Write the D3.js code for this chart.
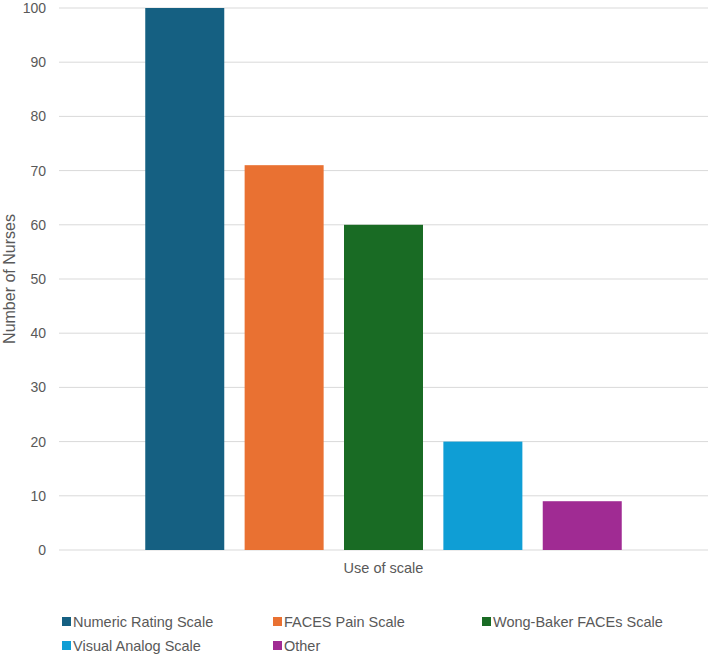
<!DOCTYPE html>
<html>
<head>
<meta charset="utf-8">
<script src="https://cdn.jsdelivr.net/npm/d3@7"></script>
<style>
  html, body { margin: 0; padding: 0; background: #fff; }
  svg { display: block; }
  text { font-family: "Liberation Sans", Arial, sans-serif; }
</style>
</head>
<body>
<svg id="chart" width="709" height="655"></svg>
<script>
const category = "Use of scale";
const seriesNames = ["Numeric Rating Scale", "FACES Pain Scale", "Wong-Baker FACEs Scale", "Visual Analog Scale", "Other"];
const seriesValues = [100, 71, 60, 20, 9];
const seriesColors = ["#156082", "#E97132", "#196B24", "#0F9ED5", "#A02B93"];
const yTicks = [0, 10, 20, 30, 40, 50, 60, 70, 80, 90, 100];
const yTitle = "Number of Nurses";

const svg = d3.select("#chart");
const plot = { left: 59, right: 708, top: 8, bottom: 550 };

const y = d3.scaleLinear().domain([0, 100]).range([plot.bottom, plot.top]);
const xCat = d3.scaleBand().domain([category]).range([plot.left, plot.right]).paddingInner(0).paddingOuter(0);
const xSeries = d3.scaleBand().domain(seriesNames).range([0, xCat.bandwidth()]).paddingInner(0.205).paddingOuter(0.868);

// gridlines
svg.append("g").selectAll("line").data(yTicks).join("line")
  .attr("x1", plot.left).attr("x2", plot.right)
  .attr("y1", d => y(d)).attr("y2", d => y(d))
  .attr("stroke", "#d9d9d9").attr("stroke-width", 1);

// y axis labels
const yAxis = d3.axisLeft(y).tickValues(yTicks).tickSize(0).tickPadding(0);
const gy = svg.append("g").attr("transform", `translate(${plot.left - 13},0)`).call(yAxis);
gy.select(".domain").remove();
gy.selectAll("text").attr("font-size", 14).attr("fill", "#595959")
  .attr("font-family", "Liberation Sans, Arial, sans-serif");

// bars
svg.append("g").selectAll("rect").data(seriesNames).join("rect")
  .attr("x", d => xCat(category) + xSeries(d))
  .attr("width", xSeries.bandwidth())
  .attr("y", (d, i) => y(seriesValues[i]))
  .attr("height", (d, i) => y(0) - y(seriesValues[i]))
  .attr("fill", (d, i) => seriesColors[i]);

// x axis category label
svg.append("text")
  .attr("x", xCat(category) + xCat.bandwidth() / 2)
  .attr("y", 573)
  .attr("text-anchor", "middle")
  .attr("font-size", 14.5).attr("fill", "#595959")
  .text(category);

// y title
svg.append("text")
  .attr("transform", `translate(15,${(plot.top + plot.bottom) / 2}) rotate(-90)`)
  .attr("text-anchor", "middle")
  .attr("font-size", 16).attr("fill", "#595959")
  .text(yTitle);

// legend
const legendPos = [[62, 622], [273, 622], [482, 622], [62, 646], [273, 646]];
const lg = svg.append("g").selectAll("g").data(seriesNames).join("g")
  .attr("transform", (d, i) => `translate(${legendPos[i][0]},${legendPos[i][1]})`);
lg.append("rect").attr("x", 0).attr("y", -5).attr("width", 9).attr("height", 9)
  .attr("fill", (d, i) => seriesColors[i]);
lg.append("text").attr("x", 11).attr("y", 0).attr("dy", "0.35em")
  .attr("font-size", 14.5).attr("fill", "#595959")
  .text(d => d);
</script>
</body>
</html>
